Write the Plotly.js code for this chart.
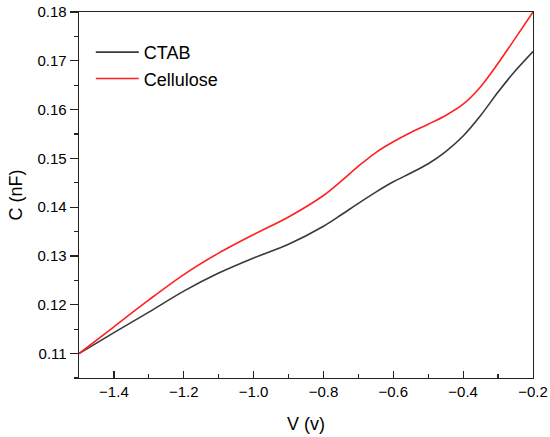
<!DOCTYPE html>
<html>
<head>
<meta charset="utf-8">
<script src="https://cdn.plot.ly/plotly-3.0.1.min.js"></script>
<style>html,body{margin:0;padding:0;background:#fff;}#chart{width:550px;height:437px;}</style>
</head>
<body>
<div id="chart"></div>
<script>
var voltage = [-1.5, -1.4, -1.3, -1.2, -1.1, -1.0, -0.9, -0.8, -0.75, -0.7, -0.65, -0.6, -0.55, -0.5, -0.45, -0.4, -0.35, -0.3, -0.25, -0.2];
var ctab = [0.1100, 0.1143, 0.1185, 0.1228, 0.1265, 0.1296, 0.1324, 0.1361, 0.1384, 0.1408, 0.1431, 0.1452, 0.1470, 0.1489, 0.1514, 0.1546, 0.1588, 0.1636, 0.1680, 0.1719];
var cellulose = [0.1100, 0.1155, 0.1210, 0.1262, 0.1306, 0.1344, 0.1380, 0.1424, 0.1453, 0.1484, 0.1512, 0.1534, 0.1553, 0.1570, 0.1588, 0.1611, 0.1647, 0.1695, 0.1747, 0.1800];
var seriesNames = ['CTAB', 'Cellulose'];

var font = 'Liberation Sans, Arial, sans-serif';
var traces = [
  {x: voltage, y: ctab, name: seriesNames[0], type: 'scatter', mode: 'lines',
   line: {color: '#3a3a3a', width: 1.6, shape: 'spline', smoothing: 0.9}},
  {x: voltage, y: cellulose, name: seriesNames[1], type: 'scatter', mode: 'lines',
   line: {color: '#ff2020', width: 1.6, shape: 'spline', smoothing: 0.9}}
];
var layout = {
  width: 550, height: 437,
  margin: {l: 79, r: 17, t: 12, b: 59},
  paper_bgcolor: '#fff', plot_bgcolor: '#fff',
  font: {family: font, color: '#000', size: 15},
  showlegend: true,
  legend: {x: 0.026, y: 0.94, xanchor: 'left', yanchor: 'top', bgcolor: 'rgba(0,0,0,0)',
           itemwidth: 43, font: {family: font, size: 18, color: '#000'}, tracegroupgap: 0},
  xaxis: {
    range: [-1.5, -0.2], tick0: -1.4, dtick: 0.2, tickformat: '.1f',
    ticks: 'inside', ticklen: 7, tickwidth: 1.2, tickcolor: '#222',
    minor: {dtick: 0.1, tick0: -1.5, ticks: 'inside', ticklen: 4, tickwidth: 1.2, tickcolor: '#222'},
    showline: true, linecolor: '#222', linewidth: 1.3, mirror: true,
    showgrid: false, zeroline: false,
    tickfont: {family: font, size: 15, color: '#000'},
    title: {text: 'V (v)', font: {family: font, size: 18, color: '#000'}, standoff: 18}
  },
  yaxis: {
    range: [0.105, 0.18], tick0: 0.11, dtick: 0.01, tickformat: '.2f',
    ticks: 'outside', ticklen: 8, tickwidth: 1.2, tickcolor: '#222',
    minor: {dtick: 0.005, ticks: 'outside', ticklen: 4, tickwidth: 1.2, tickcolor: '#222'},
    showline: true, linecolor: '#222', linewidth: 1.3, mirror: true,
    showgrid: false, zeroline: false,
    tickfont: {family: font, size: 15, color: '#000'},
    title: {text: 'C (nF)', font: {family: font, size: 18, color: '#000'}, standoff: 10}
  }
};
Plotly.newPlot('chart', traces, layout, {staticPlot: true, displayModeBar: false});
</script>
</body>
</html>
